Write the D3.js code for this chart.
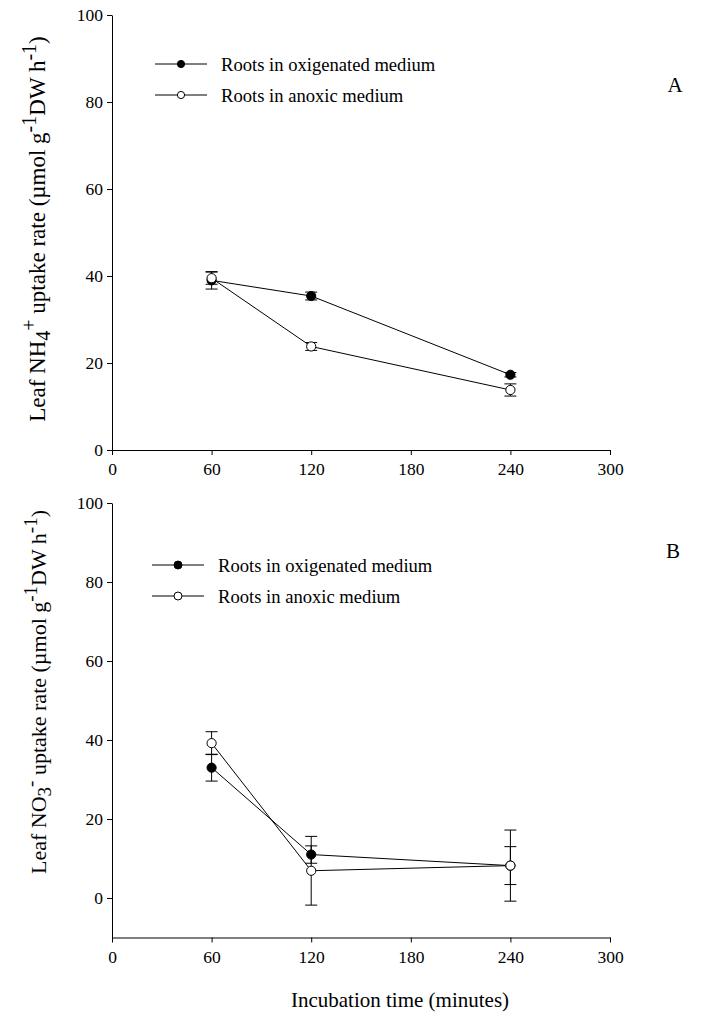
<!DOCTYPE html>
<html>
<head>
<meta charset="utf-8">
<script src="https://cdn.jsdelivr.net/npm/d3@7"></script>
<style>
  html, body { margin: 0; padding: 0; background: #fff; }
  svg text { font-family: "Liberation Serif", "Times New Roman", serif; fill: #000; }
</style>
</head>
<body>
<svg id="chart" width="728" height="1019"></svg>
<script>
// ---- data ----
const xTickValues = [0, 60, 120, 180, 240, 300];
const yTickValues = [0, 20, 40, 60, 80, 100];
const times = [60, 120, 240];
const seriesNames = ["Roots in oxigenated medium", "Roots in anoxic medium"];

const nh4Oxy = [39.0, 35.4, 17.3];
const nh4OxyErr = [2.0, 0.9, 0.5];
const nh4Anox = [39.5, 23.8, 13.8];
const nh4AnoxErr = [1.4, 0.9, 1.4];

const no3Oxy = [33.0, 11.0, 8.2];
const no3OxyErr = [3.4, 2.2, 4.8];
const no3Anox = [39.2, 6.9, 8.2];
const no3AnoxErr = [2.9, 8.7, 9.0];

// ---- drawing ----
const svg = d3.select("#chart");
const X0 = 112, X1 = 610;
const x = d3.scaleLinear().domain([0, 300]).range([X0, X1]);

function drawPanel(cfg) {
  const y = d3.scaleLinear().domain(cfg.yDomain).range([cfg.yBottom, cfg.yTop]);
  const g = svg.append("g");

  const yAxis = d3.axisLeft(y).tickValues(yTickValues).tickSize(5).tickSizeOuter(0).tickPadding(4);
  const ga = g.append("g").attr("transform", `translate(${X0},0)`).call(yAxis);
  const xAxis = d3.axisBottom(x).tickValues(xTickValues).tickSize(5).tickSizeOuter(0).tickPadding(8);
  const gx = g.append("g").attr("transform", `translate(0,${cfg.yBottom})`).call(xAxis);
  [ga, gx].forEach(a => {
    a.selectAll("text").style("font-size", "17.5px").style("font-family", '"Liberation Serif", serif');
    a.selectAll("path, line").attr("stroke", "#000").attr("stroke-width", 1);
  });

  const series = [
    { vals: cfg.oxy, err: cfg.oxyErr, fill: "#000" },
    { vals: cfg.anox, err: cfg.anoxErr, fill: "#fff" }
  ];
  const line = d3.line().x(d => x(d[0])).y(d => y(d[1]));

  series.forEach(s => {
    const pts = times.map((t, i) => [t, s.vals[i], s.err[i]]);
    g.append("path").attr("d", line(pts)).attr("fill", "none").attr("stroke", "#000").attr("stroke-width", 1);
    const eb = g.append("g");
    pts.forEach(p => {
      const cx = x(p[0]);
      const yt = y(p[1] + p[2]), yb = y(p[1] - p[2]);
      eb.append("line").attr("x1", cx).attr("x2", cx).attr("y1", yt).attr("y2", yb).attr("stroke", "#000");
      eb.append("line").attr("x1", cx - 6).attr("x2", cx + 6).attr("y1", yt).attr("y2", yt).attr("stroke", "#000");
      eb.append("line").attr("x1", cx - 6).attr("x2", cx + 6).attr("y1", yb).attr("y2", yb).attr("stroke", "#000");
    });
    g.selectAll(null).data(pts).enter().append("circle")
      .attr("cx", d => x(d[0])).attr("cy", d => y(d[1])).attr("r", 4.6)
      .attr("fill", s.fill).attr("stroke", "#000").attr("stroke-width", 1);
  });

  // legend
  seriesNames.forEach((name, i) => {
    const ly = cfg.legY + i * 31;
    g.append("line").attr("x1", cfg.legX).attr("x2", cfg.legX + 52).attr("y1", ly).attr("y2", ly).attr("stroke", "#000");
    g.append("circle").attr("cx", cfg.legX + 26).attr("cy", ly).attr("r", cfg.legR)
      .attr("fill", i === 0 ? "#000" : "#fff").attr("stroke", "#000");
    g.append("text").attr("x", cfg.legX + 66).attr("y", ly).attr("dy", "0.35em")
      .style("font-size", "18.6px").text(name);
  });

  // panel letter
  g.append("text").attr("x", cfg.letterX).attr("y", cfg.letterY).attr("text-anchor", "middle")
    .attr("dy", "0.35em").style("font-size", "21px").text(cfg.letter);

  // y title
  const t = g.append("text")
    .attr("transform", `translate(${cfg.titleX},${cfg.titleY}) rotate(-90)`)
    .attr("text-anchor", "middle").style("font-size", cfg.titleSize + "px");
  cfg.title.forEach(part => {
    const ts = t.append("tspan").text(part.t);
    if (part.s === "sub") ts.attr("baseline-shift", "-25%").style("font-size", (cfg.titleSize - 3) + "px");
    if (part.s === "sup") ts.attr("baseline-shift", "45%").style("font-size", (cfg.titleSize - 3) + "px");
  });
}

drawPanel({
  yDomain: [0, 100], yTop: 15, yBottom: 450,
  oxy: nh4Oxy, oxyErr: nh4OxyErr, anox: nh4Anox, anoxErr: nh4AnoxErr,
  legX: 155, legY: 64, legR: 3.6,
  letter: "A", letterX: 675, letterY: 85,
  titleX: 45, titleY: 229, titleSize: 23,
  title: [{ t: "Leaf NH" }, { t: "4", s: "sub" }, { t: "+", s: "sup" }, { t: " uptake rate (µmol g" },
          { t: "-1", s: "sup" }, { t: "DW h" }, { t: "-1", s: "sup" }, { t: ")" }]
});

drawPanel({
  yDomain: [-10, 100], yTop: 503, yBottom: 937.5,
  oxy: no3Oxy, oxyErr: no3OxyErr, anox: no3Anox, anoxErr: no3AnoxErr,
  legX: 152, legY: 565, legR: 4,
  letter: "B", letterX: 673, letterY: 551,
  titleX: 46, titleY: 692, titleSize: 22,
  title: [{ t: "Leaf NO" }, { t: "3", s: "sub" }, { t: "-", s: "sup" }, { t: " uptake rate (µmol g" },
          { t: "-1", s: "sup" }, { t: "DW h" }, { t: "-1", s: "sup" }, { t: ")" }]
});

// x title
svg.append("text").attr("x", 400).attr("y", 1000).attr("text-anchor", "middle")
  .attr("dy", "0.35em").style("font-size", "21px").text("Incubation time (minutes)");
</script>
</body>
</html>
